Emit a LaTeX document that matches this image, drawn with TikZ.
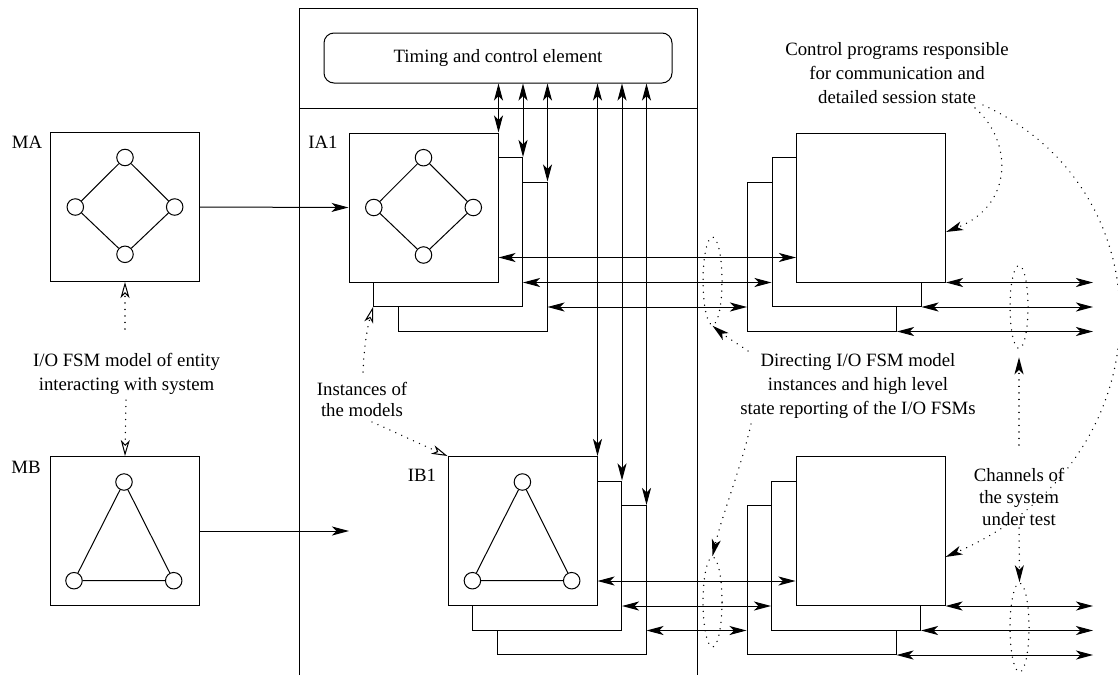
\documentclass[tikz,border=0pt]{standalone}
\usepackage{fontspec}
\setmainfont{Liberation Serif}
\usetikzlibrary{arrows.meta,calc,shapes.geometric}
\begin{document}
\begin{tikzpicture}[x=1pt,y=-1pt,
  font=\fontsize{18.8}{24}\selectfont,
  line width=1pt,
  >={Stealth[length=17pt,width=9pt,inset=4.5pt]},
  box/.style={draw,fill=white,minimum width=149pt,minimum height=149pt,inner sep=0pt},
  st/.style={draw,circle,fill=white,minimum size=16.5pt,inner sep=0pt},
  lbl/.style={inner sep=0pt,align=center},
  dots/.style={line width=1.5pt,line cap=round,dash pattern=on 0.01pt off 6.5pt},
  oarr/.style={-{Stealth[open,length=16pt,width=9pt,inset=4.5pt,line width=1pt]}},
  elp/.style={ellipse,draw,dots,minimum width=19pt,inner sep=0pt},
]
\useasboundingbox (0,0) rectangle (1118,675);
% frame
\coordinate (fbl) at (299,675);
\coordinate (ftr) at (697,8);
\coordinate (fbr) at (697,675);
\coordinate (dl) at (299,108);
\coordinate (dr) at (697,108);
\draw (fbl) |- (ftr) -- (fbr);
\draw (dl) -- (dr);
\node[draw,rounded corners=10pt,minimum width=348pt,minimum height=50pt,inner sep=0pt] (timing) at (498,58) {Timing and control element};

% boxes
\node[box] (MA) at (125,207) {};
\node[box] (MB) at (125,531) {};
\node[box] (IA3) at (472.5,256.5) {};
\node[box] (IA2) at (448,232) {};
\node[box] (IA1) at (423.5,207.5) {};
\node[box] (IB3) at (571.5,580) {};
\node[box] (IB2) at (547,555.5) {};
\node[box] (IB1) at (522.5,531) {};
\node[box] (RA3) at (822,256.5) {};
\node[box] (RA2) at (846.5,232) {};
\node[box] (RA1) at (871,207.5) {};
\node[box] (RB3) at (821.5,580) {};
\node[box] (RB2) at (846,555.5) {};
\node[box] (RB1) at (870.5,531) {};

% state machines
\node[st] (MAt) at (125,157.5) {};
\node[st] (MAl) at (75.3,207) {};
\node[st] (MAr) at (174.7,207) {};
\node[st] (MAb) at (125,254.3) {};
\draw (MAt) -- (MAl) -- (MAb) -- (MAr) -- (MAt);
\node[st] (IAt) at (423.5,157.7) {};
\node[st] (IAl) at (373.8,207.5) {};
\node[st] (IAr) at (473.3,207.5) {};
\node[st] (IAb) at (423.5,255) {};
\draw (IAt) -- (IAl) -- (IAb) -- (IAr) -- (IAt);
\node[st] (MBt) at (124,482) {};
\node[st] (MBl) at (74,580.7) {};
\node[st] (MBr) at (173.7,580.7) {};
\draw (MBt) -- (MBl) -- (MBr) -- (MBt);
\node[st] (IBt) at (522.4,482) {};
\node[st] (IBl) at (472.4,580.7) {};
\node[st] (IBr) at (571.7,580.7) {};
\draw (IBt) -- (IBl) -- (IBr) -- (IBt);

% labels
\node[lbl] (lMA) at (27,142) {MA};
\node[lbl] (lIA) at (323,142) {IA1};
\node[lbl] (lMB) at (26,467) {MB};
\node[lbl] (lIB) at (422,475) {IB1};

% solid connectors
\draw[->] (MA.east) -- (IA1.west);
\coordinate (mbend) at (349,531);
\draw[->] (MB.east) -- (mbend);
\foreach \n in {IA1,IA2,IA3,IB1,IB2,IB3}
  \draw[<->] (\n.north east |- timing.south) -- (\n.north east);
\draw[<->] ($(IA1.south east)+(0,-25)$) -- ($(RA1.south west)+(0,-25)$);
\draw[<->] ($(IA2.south east)+(0,-24.5)$) -- ($(RA2.south west)+(0,-24.5)$);
\draw[<->] ($(IA3.south east)+(0,-24.5)$) -- ($(RA3.south west)+(0,-24.5)$);
\draw[<->] ($(IB1.south east)+(0,-25)$) -- ($(RB1.south west)+(0,-25)$);
\draw[<->] ($(IB2.south east)+(0,-24.5)$) -- ($(RB2.south west)+(0,-24.5)$);
\draw[<->] ($(IB3.south east)+(0,-24.5)$) -- ($(RB3.south west)+(0,-24.5)$);
\coordinate (oX) at (1093,0);
\foreach \n in {RA1,RA2,RA3,RB1,RB2,RB3}
  \draw[<->] (\n.south east) -- (\n.south east -| oX);

% ellipses
\node[elp,minimum height=88pt] (eA) at (712.5,281) {};
\node[elp,minimum height=90pt] (eB) at (712.5,602) {};
\node[elp,minimum width=18pt,minimum height=83pt] (eC) at (1019,307) {};
\node[elp,minimum height=89pt] (eD) at (1019.5,627.5) {};

% texts
\node[lbl] (tio) at (126.5,374) {I/O FSM model of entity\\interacting with system};
\node[lbl] (tctrl) at (897,73) {Control programs responsible\\for communication and\\detailed session state};
\node[lbl,font=\fontsize{18.8}{21}\selectfont] (tinst) at (362,399) {Instances of\\the models};
\node[lbl] (tdir) at (858,386) {Directing I/O FSM model\\instances and high level\\state reporting of the I/O FSMs};
\node[lbl,font=\fontsize{18.8}{22}\selectfont] (tchan) at (1019,497) {Channels of\\the system\\under test};

% dotted annotation arrows
\coordinate (d1) at (125,329);
\draw[dots,oarr] (d1) -- (MA.south);
\coordinate (d2) at (126,400);
\draw[dots,oarr] (d2) -- (MB.north);
\coordinate (d3) at (363,372);
\draw[dots,oarr] (d3) .. controls (364,345) and (368,325) .. (IA2.south west);
\coordinate (d4) at (372,422);
\draw[dots,oarr] (d4) .. controls (395,432) and (420,444) .. (IB1.north west);
\coordinate (d5) at (748,351);
\draw[dots,->] (d5) .. controls (738,344) and (725,336) .. (eA.south);
\coordinate (d6) at (751,424);
\draw[dots,->] (d6) .. controls (742,465) and (722,515) .. (eB.north);
\coordinate (d7) at (975,108);
\draw[dots,->] (d7) .. controls (1012,140) and (1015,205) .. ($(RA1.east)+(0,24.5)$);
\coordinate (d8) at (983,105);
\draw[dots,->] (d8) .. controls (1170,190) and (1170,460) .. ($(RB1.east)+(0,26)$);
\coordinate (d9) at (1019,445);
\draw[dots,->] (d9) -- ($(eC.south)+(0,8)$);
\coordinate (d10) at (1019,528);
\draw[dots,->] (d10) -- (eD.north);
\end{tikzpicture}
\end{document}
